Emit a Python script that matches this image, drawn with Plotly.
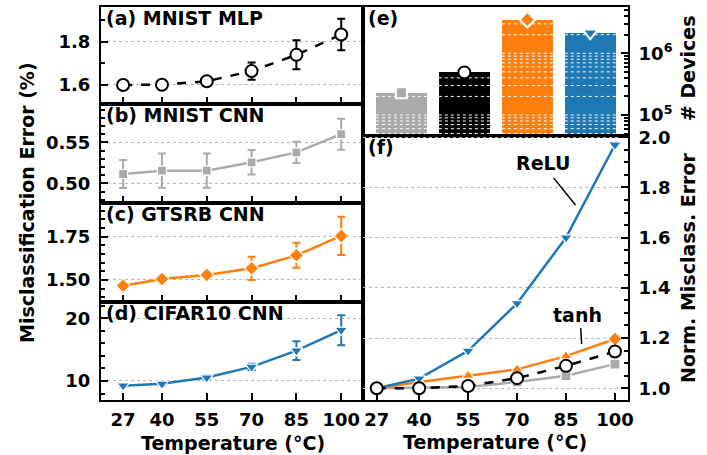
import plotly.graph_objects as go

# ---- data -------------------------------------------------------------
temps = [27, 40, 55, 70, 85, 100]

mlp_err = [1.600, 1.601, 1.617, 1.664, 1.739, 1.833]
mlp_std = [0.006, 0.010, 0.016, 0.040, 0.067, 0.073]

cnn_err = [0.5114, 0.5155, 0.5155, 0.5257, 0.5378, 0.5601]
cnn_std = [0.017, 0.021, 0.021, 0.015, 0.013, 0.019]

gtsrb_err = [1.467, 1.506, 1.529, 1.567, 1.642, 1.754]
gtsrb_std = [0.010, 0.012, 0.012, 0.067, 0.072, 0.110]

cifar_err = [9.25, 9.55, 10.55, 12.25, 14.85, 18.1]
cifar_std = [0.20, 0.25, 0.30, 0.50, 1.50, 2.40]

# normalised error (relative to 27 °C)
norm_mlp = [1.000, 1.000, 1.009, 1.040, 1.089, 1.146]
norm_cnn = [1.000, 1.003, 1.005, 1.025, 1.050, 1.096]
norm_gtsrb = [1.000, 1.025, 1.050, 1.075, 1.128, 1.196]
norm_cifar = [1.000, 1.038, 1.149, 1.338, 1.600, 1.970]

# number of devices per network: MNIST CNN, MNIST MLP, GTSRB CNN, CIFAR10 CNN
devices = [2.3e5, 4.9e5, 3.5e6, 2.15e6]

GRAY, BLACK, ORANGE, BLUE = "#aaaaaa", "#000000", "#ff7f0e", "#1f77b4"
FONT = "DejaVu Sans"
GRID = "#b5b5b5"

# ---- geometry ---------------------------------------------------------
XL = [0.0, 0.4972]
XR = [0.4972, 1.0]
YA = [0.7532, 1.0]
YB = [0.5013, 0.7532]
YC = [0.2494, 0.5013]
YD = [0.0, 0.2494]
YE = [0.6718, 1.0]
YF = [0.0, 0.6718]

fig = go.Figure()


def panel_trace(x, y, err, color, symbol, size, ax, dash="solid",
                fill=None, mline="white", mwidth=1.2):
    fig.add_trace(go.Scatter(
        x=x, y=y, mode="lines+markers",
        line=dict(color=color, width=2.5, dash=dash),
        marker=dict(symbol=symbol, size=size, color=fill or color,
                    line=dict(color=mline, width=mwidth)),
        error_y=dict(type="data", array=err, color=color,
                     thickness=2, width=4) if err is not None else None,
        xaxis="x" + ax, yaxis="y" + ax, showlegend=False, hoverinfo="skip"))


# left column
panel_trace(temps, mlp_err, mlp_std, BLACK, "circle", 12, "", dash="dash",
            fill="white", mline=BLACK, mwidth=2)
panel_trace(temps, cnn_err, cnn_std, GRAY, "square", 9, "2")
panel_trace(temps, gtsrb_err, gtsrb_std, ORANGE, "diamond", 11, "3")
panel_trace(temps, cifar_err, cifar_std, BLUE, "triangle-down", 11, "4")

# (e) bars
bar_x = [0, 1, 2, 3]
bar_colors = [GRAY, BLACK, ORANGE, BLUE]
fig.add_trace(go.Bar(x=bar_x, y=devices, width=0.81,
                     marker=dict(color=bar_colors, line=dict(width=0)),
                     xaxis="x5", yaxis="y5", showlegend=False,
                     hoverinfo="skip"))

# white dotted log grid drawn over the bars
grid_vals = [m * 10 ** e for e in (4, 5, 6) for m in range(1, 10)]
gx, gy = [], []
for xi, h in zip(bar_x, devices):
    for v in grid_vals:
        if 4.6e4 < v < h:
            gx += [xi - 0.405, xi + 0.405, None]
            gy += [v, v, None]
fig.add_trace(go.Scatter(x=gx, y=gy, mode="lines",
                         line=dict(color="white", width=1, dash="dot"),
                         xaxis="x5", yaxis="y5", showlegend=False,
                         hoverinfo="skip"))

# marker on top of each bar
bar_marks = [("square", 11, GRAY, "white"), ("circle", 12, "white", BLACK),
             ("diamond", 12, ORANGE, "white"),
             ("triangle-down", 13, BLUE, "white")]
for xi, h, (sym, size, fill, edge) in zip(bar_x, devices, bar_marks):
    fig.add_trace(go.Scatter(
        x=[xi], y=[h], mode="markers",
        marker=dict(symbol=sym, size=size, color=fill,
                    line=dict(color=edge, width=2)),
        xaxis="x5", yaxis="y5", showlegend=False, hoverinfo="skip"))

# (f) normalised error
panel_trace(temps, norm_cnn, None, GRAY, "square", 10, "6")
panel_trace(temps, norm_gtsrb, None, ORANGE,
            ["diamond", "triangle-up", "triangle-up", "triangle-up",
             "triangle-up", "diamond"], 11, "6")
panel_trace(temps, norm_cifar, None, BLUE, "triangle-down", 11, "6")
panel_trace(temps, norm_mlp, None, BLACK, "circle", 12, "6", dash="dash",
            fill="white", mline=BLACK, mwidth=2)

# ---- axes -------------------------------------------------------------
tickfont = dict(family=FONT, size=18, color="black", weight="bold")
frame = dict(showline=True, linecolor="black", linewidth=2, mirror=True,
             zeroline=False, automargin=False)


def xaxis(domain, anchor, rng, labels):
    return dict(domain=domain, anchor=anchor, range=rng, tickmode="array",
                tickvals=temps, ticktext=[str(t) for t in temps],
                showticklabels=labels, ticks="inside", ticklen=7,
                tickwidth=2, tickcolor="black", showgrid=False,
                tickfont=tickfont, ticklabelstandoff=2, **frame)


def yaxis(domain, anchor, rng, dtick, tick0, minor, fmt, side="left"):
    return dict(domain=domain, anchor=anchor, range=rng, side=side,
                dtick=dtick, tick0=tick0, tickformat=fmt, ticks="inside",
                ticklen=7, tickwidth=2, tickcolor="black",
                minor=dict(dtick=minor, tick0=tick0, ticks="inside",
                           ticklen=4, tickwidth=1.5, tickcolor="black"),
                showgrid=True, gridcolor=GRID, griddash="dot", gridwidth=1,
                tickfont=tickfont, ticklabelstandoff=5, **frame)


LX = [19.6, 107.3]
RX = [22.8, 104.0]

fig.update_layout(
    xaxis=xaxis(XL, "y", LX, False),
    xaxis2=xaxis(XL, "y2", LX, False),
    xaxis3=xaxis(XL, "y3", LX, False),
    xaxis4=xaxis(XL, "y4", LX, True),
    xaxis6=xaxis(XR, "y6", RX, True),
    xaxis5=dict(domain=XR, anchor="y5", range=[-0.61, 3.6],
                showticklabels=False, ticks="", showgrid=False, **frame),
    yaxis=yaxis(YA, "x", [1.512, 1.96], 0.2, 1.6, 0.1, ".1f"),
    yaxis2=yaxis(YB, "x2", [0.476, 0.597], 0.05, 0.5, 0.01, ".2f"),
    yaxis3=yaxis(YC, "x3", [1.373, 1.944], 0.25, 1.5, 0.05, ".2f"),
    yaxis4=yaxis(YD, "x4", [6.97, 22.6], 10, 10, 2, "d"),
    yaxis6=yaxis(YF, "x6", [0.953, 2.005], 0.2, 1.0, 0.05, ".1f",
                 side="right"),
    yaxis5=dict(domain=YE, anchor="x5", side="right", type="log",
                range=[4.66, 6.75], tickmode="array", tickvals=[1e5, 1e6],
                ticktext=["10<sup>5</sup>", "10<sup>6</sup>"],
                ticks="inside", ticklen=7, tickwidth=2, tickcolor="black",
                minor=dict(tickmode="array",
                           tickvals=[v for v in grid_vals
                                     if v not in (1e4, 1e5, 1e6)],
                           ticks="inside", ticklen=4, tickwidth=1.5,
                           tickcolor="black"),
                showgrid=False, tickfont=tickfont, ticklabelstandoff=5,
                **frame),
    width=707, height=455,
    margin=dict(l=101, r=79, t=7, b=55, autoexpand=False),
    plot_bgcolor="white", paper_bgcolor="white",
    showlegend=False, bargap=0,
    font=dict(family=FONT, color="black"),
)

# ---- text -------------------------------------------------------------
title_font = dict(family=FONT, size=19, color="black", weight="bold")
panel_titles = [("(a) MNIST MLP", "x", "y"), ("(b) MNIST CNN", "x2", "y2"),
                ("(c) GTSRB CNN", "x3", "y3"), ("(d) CIFAR10 CNN", "x4", "y4"),
                ("(e)", "x5", "y5"), ("(f)", "x6", "y6")]
for text, xr, yr in panel_titles:
    fig.add_annotation(text=text, xref=xr + " domain", yref=yr + " domain",
                       x=0, y=1, xanchor="left", yanchor="top", xshift=3,
                       yshift=2, showarrow=False, font=title_font)

axis_font = dict(family=FONT, size=19, color="black", weight="bold")


def paper_text(text, x, y, angle=0):
    fig.add_annotation(text=text, xref="paper", yref="paper", x=x, y=y,
                       xanchor="center", yanchor="middle", textangle=angle,
                       showarrow=False, font=axis_font)


paper_text("Misclassification Error (%)", -0.1404, 0.5013, -90)
paper_text("Temperature (°C)", 0.2505, -0.1094)
paper_text("Temperature (°C)", 0.7476, -0.1069)
paper_text("# Devices", 1.1139, 0.8448, -90)
paper_text("Norm. Misclass. Error", 1.1139, 0.3359, -90)

# activation labels in (f)
fig.add_annotation(text="ReLU", xref="x6", yref="y6", x=77.8, y=1.897,
                   xanchor="center", yanchor="middle",
                   showarrow=False, font=title_font)
fig.add_annotation(text="tanh", xref="x6", yref="y6", x=88.5, y=1.292,
                   xanchor="center", yanchor="middle",
                   showarrow=False, font=title_font)
fig.add_shape(type="line", xref="x6", yref="y6", x0=81.2, y0=1.838,
              x1=87.9, y1=1.730, line=dict(color="black", width=1.5))
fig.add_shape(type="line", xref="x6", yref="y6", x0=89.5, y0=1.240,
              x1=89.8, y1=1.176, line=dict(color="black", width=1.5))

fig.write_html("out.html")
